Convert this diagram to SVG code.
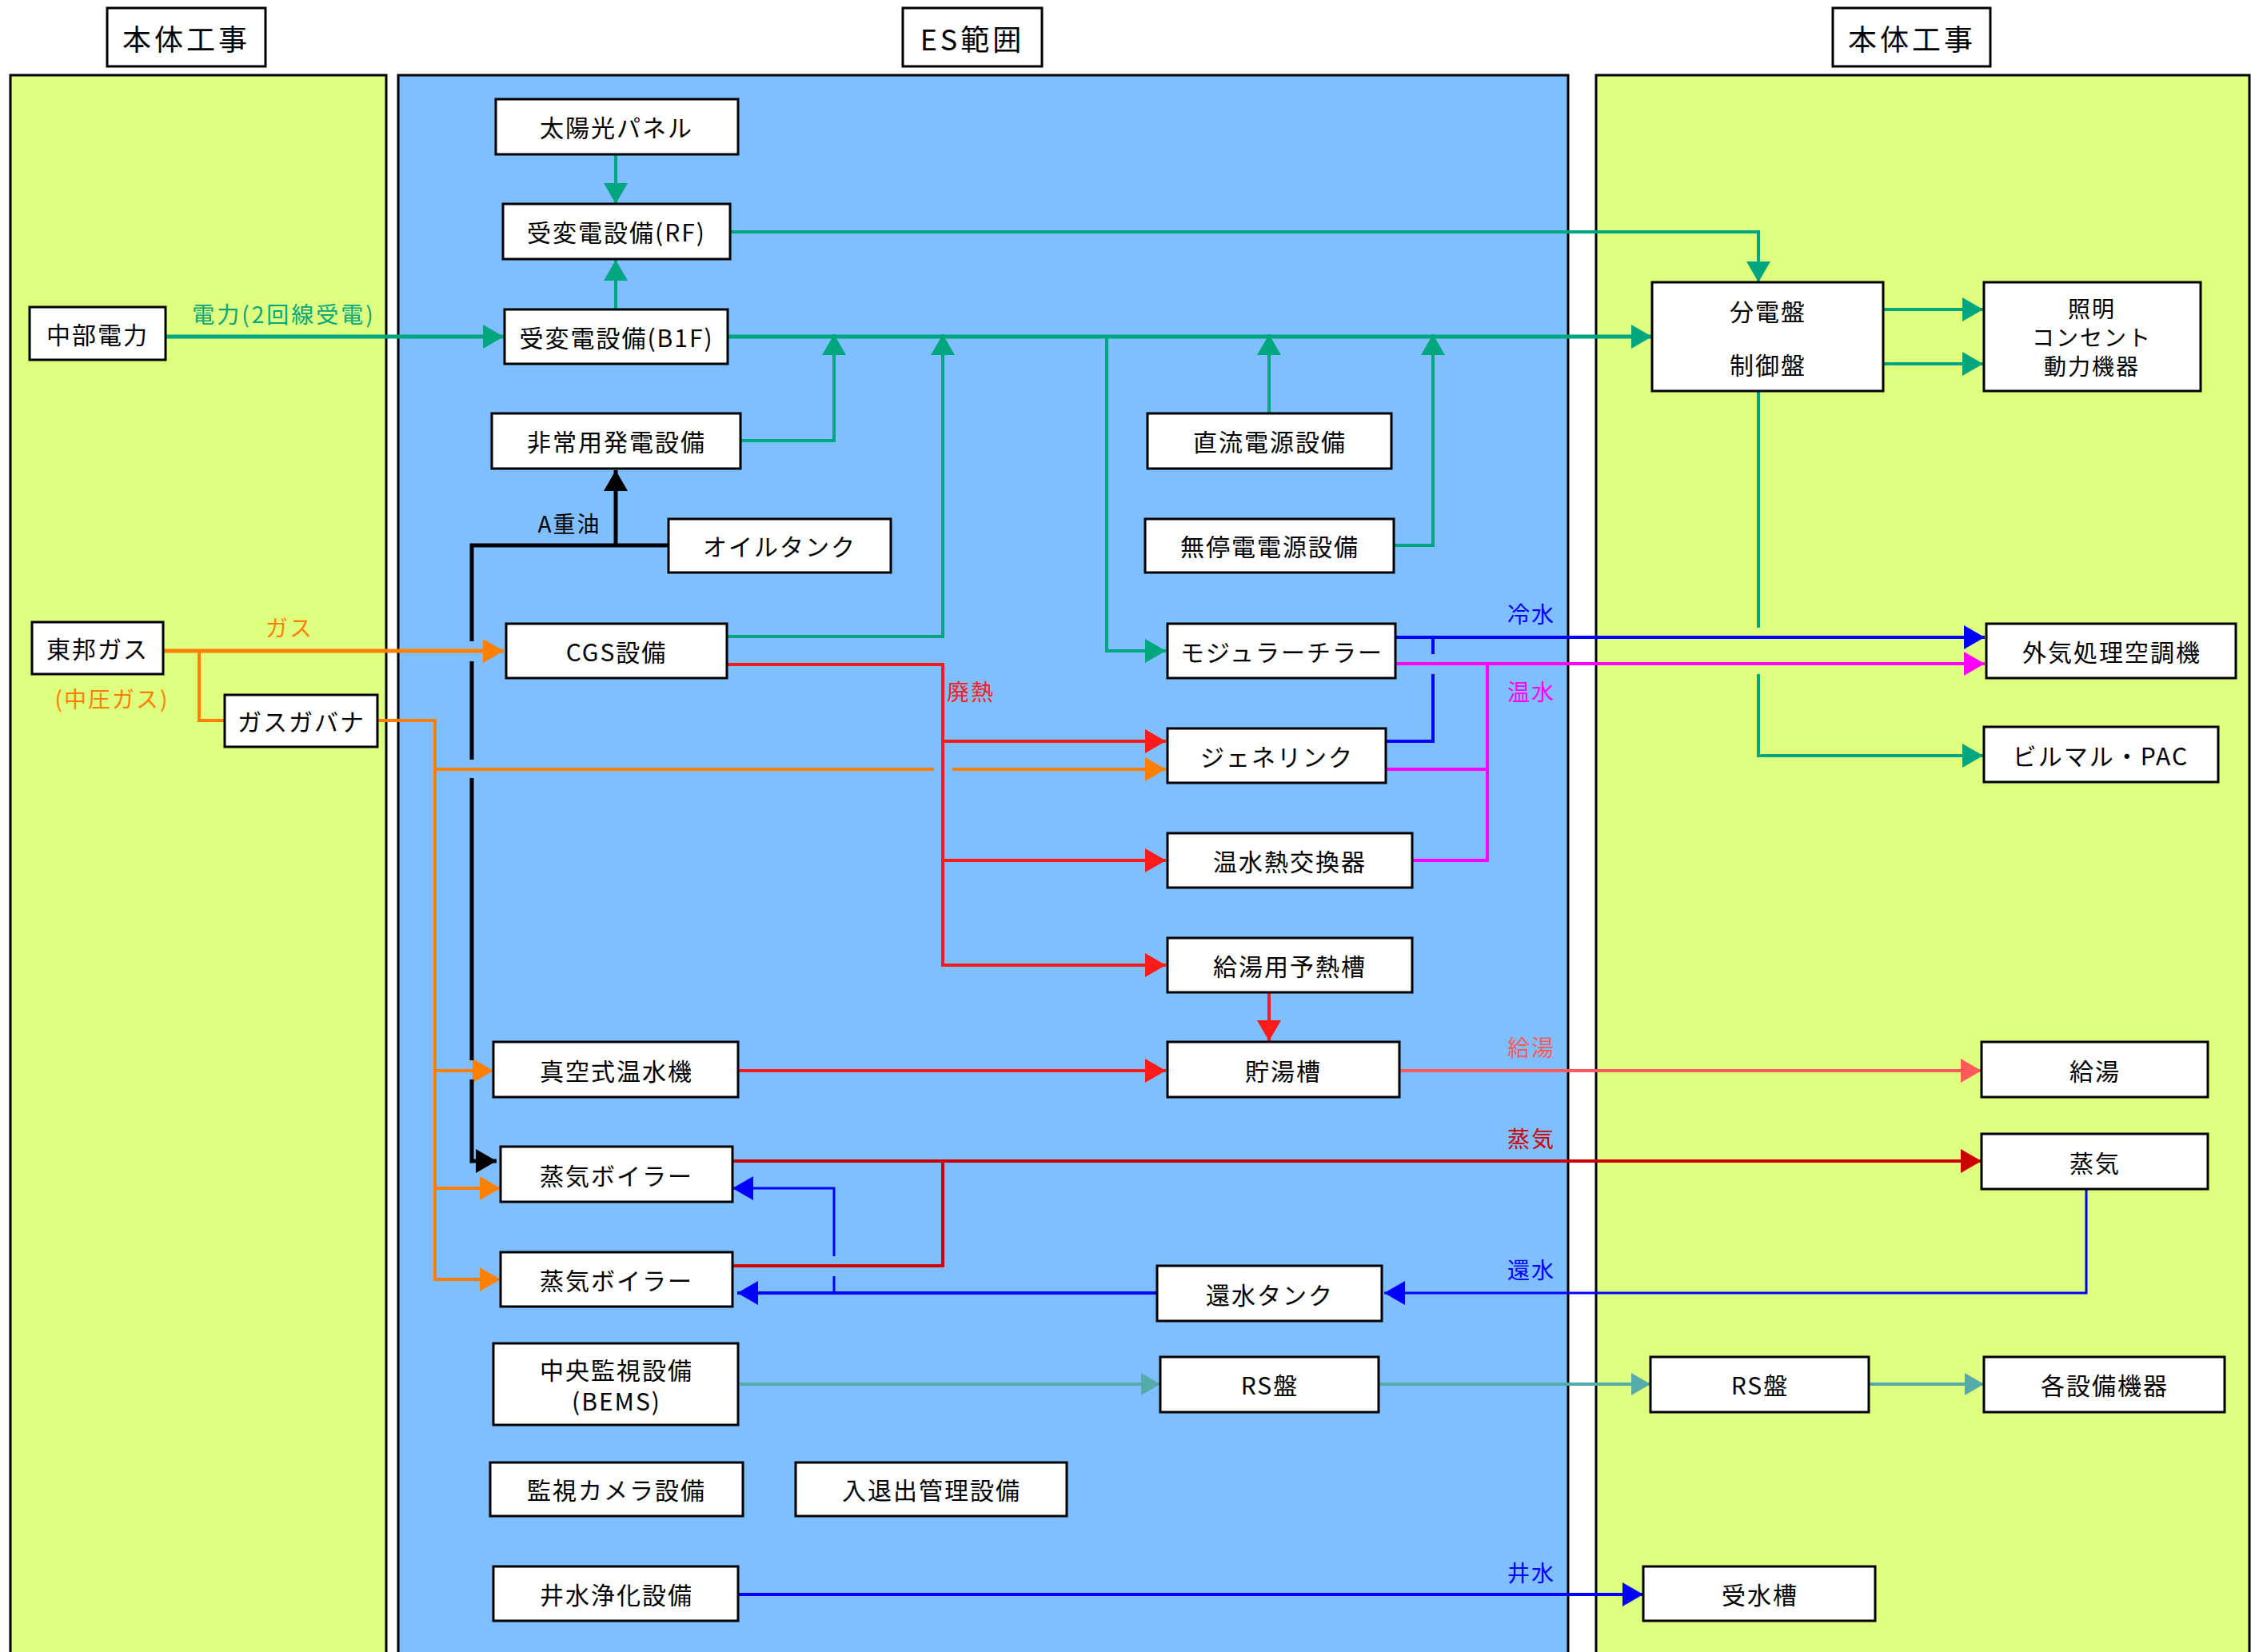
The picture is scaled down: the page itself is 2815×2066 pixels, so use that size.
<svg xmlns="http://www.w3.org/2000/svg" width="2815" height="2066" viewBox="0 0 2815 2066">
<style>
.pg{fill:#DFFF7F;stroke:#000;stroke-width:3}
.pb{fill:#80BFFF;stroke:#000;stroke-width:3}
.bx{fill:#fff;stroke:#000;stroke-width:3}
.t{font-family:"Noto Sans CJK JP","Noto Sans CJK SC",sans-serif;font-size:30px;letter-spacing:2px;text-anchor:middle;dominant-baseline:central;fill:#000}
.tt{font-size:36px;letter-spacing:4px}
.sm{font-size:28px}
.lb{font-family:"Noto Sans CJK JP","Noto Sans CJK SC",sans-serif;font-size:28px;letter-spacing:2px;text-anchor:middle;dominant-baseline:central}
.c{fill:none;stroke-linejoin:miter}
.g{stroke:#00A67E;stroke-width:4}
.o{stroke:#FF8000;stroke-width:4}
.k{stroke:#000;stroke-width:5}
.r{stroke:#FF1A1A;stroke-width:4}
.dr{stroke:#CC0000;stroke-width:4}
.b{stroke:#0000FF;stroke-width:4}
.m{stroke:#FF00FF;stroke-width:4}
.s{stroke:#FF5A5A;stroke-width:4}
.te{stroke:#55AAAA;stroke-width:4}
</style>
<defs>
<marker id="ag" viewBox="0 0 26 30" refX="26" refY="15" markerWidth="26" markerHeight="30" markerUnits="userSpaceOnUse" orient="auto"><path d="M0,0L26,15L0,30z" fill="#00A67E"/></marker>
<marker id="ao" viewBox="0 0 26 30" refX="26" refY="15" markerWidth="26" markerHeight="30" markerUnits="userSpaceOnUse" orient="auto"><path d="M0,0L26,15L0,30z" fill="#FF8000"/></marker>
<marker id="ak" viewBox="0 0 26 30" refX="26" refY="15" markerWidth="26" markerHeight="30" markerUnits="userSpaceOnUse" orient="auto"><path d="M0,0L26,15L0,30z" fill="#000"/></marker>
<marker id="ar" viewBox="0 0 26 30" refX="26" refY="15" markerWidth="26" markerHeight="30" markerUnits="userSpaceOnUse" orient="auto"><path d="M0,0L26,15L0,30z" fill="#FF1A1A"/></marker>
<marker id="adr" viewBox="0 0 26 30" refX="26" refY="15" markerWidth="26" markerHeight="30" markerUnits="userSpaceOnUse" orient="auto"><path d="M0,0L26,15L0,30z" fill="#CC0000"/></marker>
<marker id="ab" viewBox="0 0 26 30" refX="26" refY="15" markerWidth="26" markerHeight="30" markerUnits="userSpaceOnUse" orient="auto"><path d="M0,0L26,15L0,30z" fill="#0000FF"/></marker>
<marker id="am" viewBox="0 0 26 30" refX="26" refY="15" markerWidth="26" markerHeight="30" markerUnits="userSpaceOnUse" orient="auto"><path d="M0,0L26,15L0,30z" fill="#FF00FF"/></marker>
<marker id="as" viewBox="0 0 26 30" refX="26" refY="15" markerWidth="26" markerHeight="30" markerUnits="userSpaceOnUse" orient="auto"><path d="M0,0L26,15L0,30z" fill="#FF5A5A"/></marker>
<marker id="ate" viewBox="0 0 24 28" refX="24" refY="14" markerWidth="24" markerHeight="28" markerUnits="userSpaceOnUse" orient="auto"><path d="M0,0L24,14L0,28z" fill="#55AAAA"/></marker>
</defs>
<rect width="2815" height="2066" fill="#fff"/>
<g id="panels">
<rect class="pg" x="13" y="94" width="470" height="1990"/>
<rect class="pb" x="498" y="94" width="1463" height="1990"/>
<rect class="pg" x="1996" y="94" width="817" height="1990"/>
</g>
<g id="titles">
<g id="title-left"><rect class="bx" x="134" y="10" width="198" height="73"/><text class="t tt" x="233" y="47">本体工事</text></g>
<g id="title-es"><rect class="bx" x="1129" y="10" width="174" height="73"/><text class="t tt" x="1216" y="47">ES範囲</text></g>
<g id="title-right"><rect class="bx" x="2292" y="10" width="197" height="73"/><text class="t tt" x="2391" y="47">本体工事</text></g>
</g>
<g id="connectors">
<path class="c g" d="M770,193V255" marker-end="url(#ag)"/>
<path class="c g" d="M770,387V325" marker-end="url(#ag)"/>
<path class="c g" style="stroke-width:5" d="M207,421H630" marker-end="url(#ag)"/>
<path class="c g" d="M913,290H2199V353" marker-end="url(#ag)"/>
<path class="c g" style="stroke-width:5" d="M910,421H2066" marker-end="url(#ag)"/>
<path class="c g" d="M926,551H1043V418" marker-end="url(#ag)"/>
<path class="c g" d="M909,796H1179V418" marker-end="url(#ag)"/>
<path class="c g" d="M1587,517V418" marker-end="url(#ag)"/>
<path class="c g" d="M1743,682H1792V418" marker-end="url(#ag)"/>
<path class="c g" d="M1384,421V814H1458" marker-end="url(#ag)"/>
<path class="c g" d="M2355,387H2480" marker-end="url(#ag)"/>
<path class="c g" d="M2355,455H2480" marker-end="url(#ag)"/>
<path class="c g" d="M2199,489V785M2199,843V945H2480" marker-end="url(#ag)"/>
<path class="c o" style="stroke-width:5" d="M204,814H630" marker-end="url(#ao)"/>
<path class="c o" d="M249,814V901H281"/>
<path class="c o" d="M472,901H544V1600H626" marker-end="url(#ao)"/>
<path class="c o" d="M544,962H1168M1191,962H1458" marker-end="url(#ao)"/>
<path class="c o" d="M544,1339H617" marker-end="url(#ao)"/>
<path class="c o" d="M544,1486H626" marker-end="url(#ao)"/>
<path class="c k" d="M836,682H590V802M590,827V950M590,973V1326M590,1350V1452H621" marker-end="url(#ak)"/>
<path class="c k" d="M770,682V588" marker-end="url(#ak)"/>
<path class="c r" d="M909,831H1179V1207H1458" marker-end="url(#ar)"/>
<path class="c r" d="M1179,927H1458" marker-end="url(#ar)"/>
<path class="c r" d="M1179,1076H1458" marker-end="url(#ar)"/>
<path class="c r" d="M923,1339H1458" marker-end="url(#ar)"/>
<path class="c r" d="M1587,1241V1302" marker-end="url(#ar)"/>
<path class="c dr" d="M916,1452H2478" marker-end="url(#adr)"/>
<path class="c dr" d="M916,1583H1179V1452"/>
<path class="c b" d="M1745,797H2482" marker-end="url(#ab)"/>
<path class="c b" d="M1792,797V818M1792,843V927H1733"/>
<path class="c b" style="stroke-width:3" d="M2609,1487V1617H1731" marker-end="url(#ab)"/>
<path class="c b" d="M1447,1617H922" marker-end="url(#ab)"/>
<path class="c b" style="stroke-width:3" d="M1043,1617V1596M1043,1571V1486H916" marker-end="url(#ab)"/>
<path class="c b" d="M923,1994H2055" marker-end="url(#ab)"/>
<path class="c m" d="M1745,830H2482" marker-end="url(#am)"/>
<path class="c m" d="M1733,962H1860M1766,1076H1860V830"/>
<path class="c s" d="M1750,1339H2478" marker-end="url(#as)"/>
<path class="c te" d="M923,1731H1451" marker-end="url(#ate)"/>
<path class="c te" d="M1724,1731H2064" marker-end="url(#ate)"/>
<path class="c te" d="M2337,1731H2481" marker-end="url(#ate)"/>
</g>
<g id="labels">
<text class="lb" x="355" y="392" fill="#00A67E" style="letter-spacing:3px">電力(2回線受電)</text>
<text class="lb" x="362" y="784" fill="#FF8000">ガス</text>
<text class="lb" x="140" y="873" fill="#FF8000">(中圧ガス)</text>
<text class="lb" x="712" y="654" fill="#000">A重油</text>
<text class="lb" x="1214" y="864" fill="#FF1A1A">廃熱</text>
<text class="lb" x="1915" y="767" fill="#0000FF">冷水</text>
<text class="lb" x="1915" y="864" fill="#FF00FF">温水</text>
<text class="lb" x="1915" y="1309" fill="#FF5A5A">給湯</text>
<text class="lb" x="1915" y="1423" fill="#CC0000">蒸気</text>
<text class="lb" x="1915" y="1587" fill="#0000FF">還水</text>
<text class="lb" x="1915" y="1966" fill="#0000FF">井水</text>
</g>
<g id="n-chubu"><rect class="bx" x="37" y="384" width="170" height="66"/><text class="t" x="122" y="417">中部電力</text></g>
<g id="n-toho"><rect class="bx" x="40" y="778" width="164" height="65"/><text class="t" x="122" y="810">東邦ガス</text></g>
<g id="n-governor"><rect class="bx" x="281" y="869" width="191" height="65"/><text class="t" x="377" y="901">ガスガバナ</text></g>
<g id="n-solar"><rect class="bx" x="620" y="124" width="303" height="69"/><text class="t" x="771" y="158">太陽光パネル</text></g>
<g id="n-rf"><rect class="bx" x="629" y="255" width="284" height="69"/><text class="t" x="771" y="289">受変電設備(RF)</text></g>
<g id="n-b1f"><rect class="bx" x="631" y="387" width="279" height="68"/><text class="t" x="771" y="421">受変電設備(B1F)</text></g>
<g id="n-gen"><rect class="bx" x="615" y="517" width="311" height="69"/><text class="t" x="771" y="551">非常用発電設備</text></g>
<g id="n-oil"><rect class="bx" x="836" y="649" width="278" height="67"/><text class="t" x="975" y="682">オイルタンク</text></g>
<g id="n-dc"><rect class="bx" x="1435" y="517" width="305" height="69"/><text class="t" x="1588" y="551">直流電源設備</text></g>
<g id="n-ups"><rect class="bx" x="1432" y="649" width="311" height="67"/><text class="t" x="1588" y="682">無停電電源設備</text></g>
<g id="n-cgs"><rect class="bx" x="633" y="780" width="276" height="68"/><text class="t" x="771" y="814">CGS設備</text></g>
<g id="n-chiller"><rect class="bx" x="1460" y="780" width="285" height="68"/><text class="t" x="1603" y="814">モジュラーチラー</text></g>
<g id="n-genelink"><rect class="bx" x="1460" y="911" width="273" height="68"/><text class="t" x="1597" y="945">ジェネリンク</text></g>
<g id="n-hex"><rect class="bx" x="1460" y="1042" width="306" height="68"/><text class="t" x="1613" y="1076">温水熱交換器</text></g>
<g id="n-preheat"><rect class="bx" x="1460" y="1173" width="306" height="68"/><text class="t" x="1613" y="1207">給湯用予熱槽</text></g>
<g id="n-vacuum"><rect class="bx" x="617" y="1303" width="306" height="69"/><text class="t" x="771" y="1338">真空式温水機</text></g>
<g id="n-storage"><rect class="bx" x="1460" y="1303" width="290" height="69"/><text class="t" x="1605" y="1338">貯湯槽</text></g>
<g id="n-boiler1"><rect class="bx" x="626" y="1434" width="290" height="69"/><text class="t" x="771" y="1469">蒸気ボイラー</text></g>
<g id="n-boiler2"><rect class="bx" x="626" y="1566" width="290" height="68"/><text class="t" x="771" y="1600">蒸気ボイラー</text></g>
<g id="n-returntank"><rect class="bx" x="1447" y="1583" width="281" height="69"/><text class="t" x="1588" y="1618">還水タンク</text></g>
<g id="n-bems"><rect class="bx" x="617" y="1680" width="306" height="102"/><text class="t" x="771" y="1712">中央監視設備</text><text class="t" x="771" y="1751">(BEMS)</text></g>
<g id="n-rs1"><rect class="bx" x="1451" y="1697" width="273" height="69"/><text class="t" x="1588" y="1731">RS盤</text></g>
<g id="n-camera"><rect class="bx" x="613" y="1829" width="316" height="67"/><text class="t" x="771" y="1862">監視カメラ設備</text></g>
<g id="n-access"><rect class="bx" x="995" y="1829" width="339" height="67"/><text class="t" x="1165" y="1862">入退出管理設備</text></g>
<g id="n-well"><rect class="bx" x="617" y="1959" width="306" height="68"/><text class="t" x="771" y="1993">井水浄化設備</text></g>
<g id="n-panel"><rect class="bx" x="2066" y="353" width="289" height="136"/><text class="t" x="2211" y="388">分電盤</text><text class="t" x="2211" y="455">制御盤</text></g>
<g id="n-lighting"><rect class="bx" x="2481" y="353" width="271" height="136"/><text class="t sm" x="2616" y="385">照明</text><text class="t sm" x="2616" y="421">コンセント</text><text class="t sm" x="2616" y="457">動力機器</text></g>
<g id="n-doas"><rect class="bx" x="2484" y="780" width="312" height="68"/><text class="t" x="2641" y="814">外気処理空調機</text></g>
<g id="n-pac"><rect class="bx" x="2481" y="909" width="293" height="69"/><text class="t" x="2627" y="944">ビルマル・PAC</text></g>
<g id="n-hotwater"><rect class="bx" x="2478" y="1303" width="283" height="69"/><text class="t" x="2620" y="1338">給湯</text></g>
<g id="n-steam"><rect class="bx" x="2478" y="1418" width="283" height="69"/><text class="t" x="2620" y="1453">蒸気</text></g>
<g id="n-rs2"><rect class="bx" x="2064" y="1697" width="273" height="69"/><text class="t" x="2201" y="1731">RS盤</text></g>
<g id="n-equip"><rect class="bx" x="2481" y="1697" width="301" height="69"/><text class="t" x="2632" y="1731">各設備機器</text></g>
<g id="n-tank"><rect class="bx" x="2055" y="1959" width="290" height="68"/><text class="t" x="2201" y="1993">受水槽</text></g>
</svg>
